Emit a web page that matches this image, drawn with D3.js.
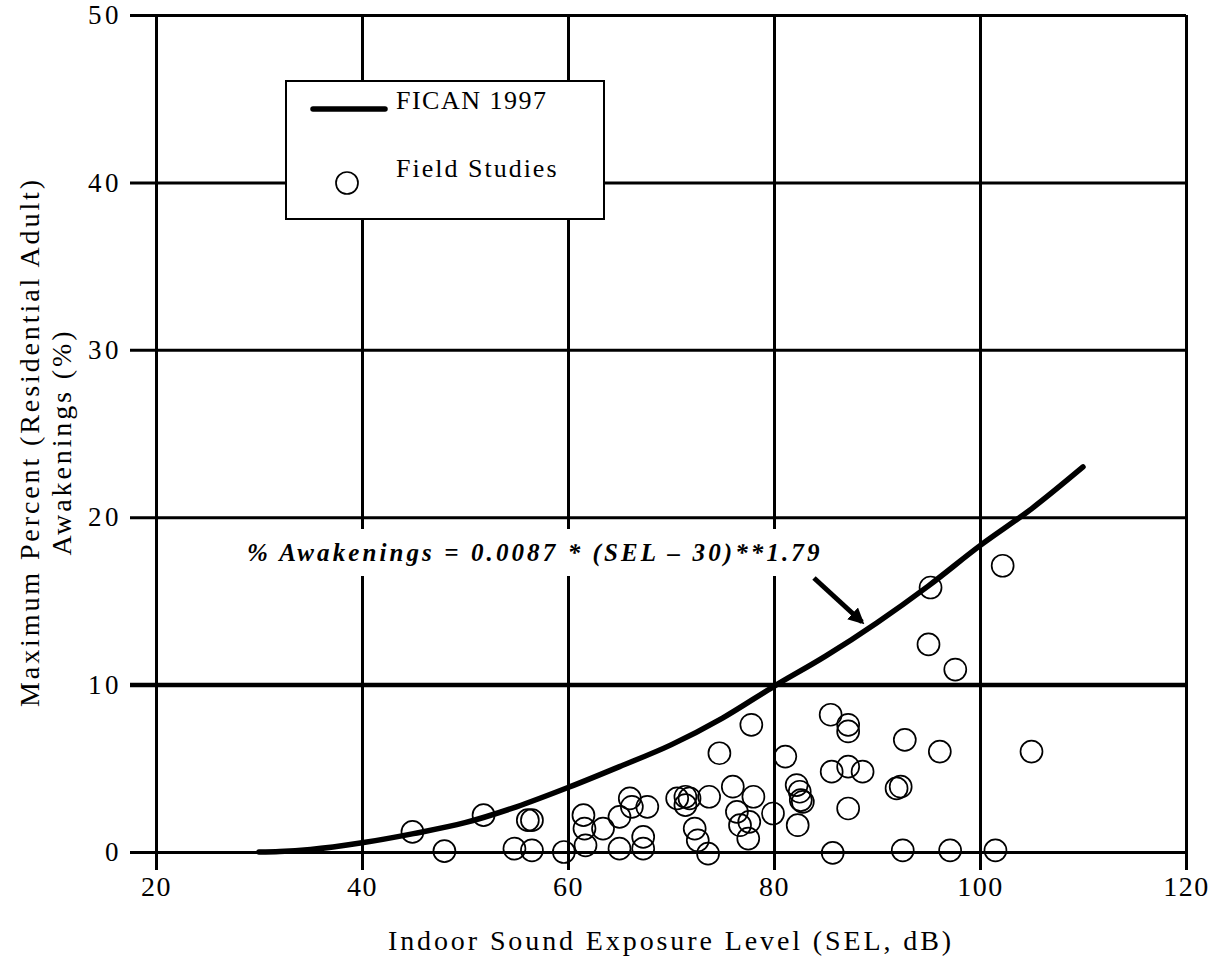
<!DOCTYPE html>
<html>
<head>
<meta charset="utf-8">
<script src="https://cdn.jsdelivr.net/npm/d3@7"></script>
<style>
  body { margin: 0; background: #fff; }
  svg { display: block; }
  text { font-family: "Liberation Serif", "Times New Roman", serif; fill: #000; }
</style>
</head>
<body>
<div class="one"></div>
<script>
// FICAN 1997 curve
let curveSel = [30, 32, 35, 40, 45, 50, 55, 60, 65, 70, 75, 80, 85, 90, 95, 100, 105, 110];
let curvePct = [0, 0.03, 0.15, 0.55, 1.1, 1.75, 2.7, 3.85, 5.1, 6.4, 8.0, 9.9, 11.7, 13.7, 15.9, 18.3, 20.5, 23.0];

// field study points (SEL, % awakenings)
let fieldSel = [44.9, 48.0, 51.8, 54.8, 56.1, 56.5, 56.5, 59.6, 61.5, 61.6, 61.7, 63.4, 65.0, 66.0, 66.2, 67.7,
  65.0, 67.3, 67.3, 70.6, 71.4, 71.4, 71.8, 73.7, 72.3, 72.6, 73.6, 76.0, 78.0, 76.4, 76.7, 77.6, 77.5, 79.9,
  74.7, 77.8, 81.1, 82.2, 82.5, 82.8, 82.6, 82.3, 85.5, 85.6, 85.7, 87.2, 87.2, 87.2, 88.6, 87.2, 92.7, 91.9,
  92.3, 92.5, 95.2, 95.0, 97.6, 96.1, 97.1, 101.5, 102.2, 105.0];
let fieldPct = [1.2, 0.05, 2.2, 0.2, 1.9, 1.9, 0.1, 0.0, 2.2, 1.4, 0.4, 1.4, 2.1, 3.2, 2.7, 2.7,
  0.2, 0.9, 0.2, 3.2, 3.3, 2.8, 3.2, 3.3, 1.4, 0.7, -0.1, 3.9, 3.3, 2.4, 1.6, 1.8, 0.8, 2.3,
  5.9, 7.6, 5.7, 4.0, 3.6, 3.0, 3.1, 1.6, 8.2, 4.8, -0.05, 7.6, 7.2, 5.1, 4.8, 2.6, 6.7, 3.8,
  3.9, 0.1, 15.8, 12.4, 10.9, 6.0, 0.1, 0.1, 17.1, 6.0];

let xTicks = [20, 40, 60, 80, 100, 120];
let yTicks = [0, 10, 20, 30, 40, 50];

let width = 1211, height = 965;
let plotL = 156, plotR = 1186, plotT = 15, plotB = 852;

let xScale = d3.scaleLinear().domain([20, 120]).range([plotL, plotR]);
let yScale = d3.scaleLinear().domain([0, 50]).range([plotB, plotT]);

let svg = d3.select(".one").append("svg")
  .attr("width", width)
  .attr("height", height);

// y grid + labels
let yAxis = d3.axisLeft(yScale).tickValues(yTicks).tickSize(-(plotR - 130)).tickPadding(8);
let yg = svg.append("g")
  .attr("transform", "translate(130,0)")
  .call(yAxis);
yg.select(".domain").remove();
yg.selectAll(".tick line").attr("stroke", "#000")
  .attr("stroke-width", d => d === 10 ? 4.5 : 3);
yg.selectAll(".tick text")
  .style("font-family", "Liberation Serif")
  .style("font-size", "27px")
  .style("letter-spacing", "3.5px");

// x grid + labels
let xAxis = d3.axisBottom(xScale).tickValues(xTicks).tickSize(-(870 - plotT)).tickPadding(6);
let xg = svg.append("g")
  .attr("transform", "translate(0,870)")
  .call(xAxis);
xg.select(".domain").remove();
xg.selectAll(".tick line").attr("stroke", "#000").attr("stroke-width", 3);
xg.selectAll(".tick text")
  .style("font-family", "Liberation Serif")
  .style("font-size", "28px")
  .style("letter-spacing", "1.5px");

// FICAN curve
let line = d3.line()
  .x((d, i) => xScale(curveSel[i]))
  .y(d => yScale(d))
  .curve(d3.curveMonotoneX);

svg.append("path")
  .datum(curvePct)
  .attr("d", line)
  .attr("fill", "none")
  .attr("stroke", "#000")
  .attr("stroke-width", 5.5)
  .attr("stroke-linecap", "round");

// field studies
svg.append("g").selectAll("circle")
  .data(fieldSel)
  .join("circle")
  .attr("cx", d => xScale(d))
  .attr("cy", (d, i) => yScale(fieldPct[i]))
  .attr("r", 11)
  .attr("fill", "none")
  .attr("stroke", "#000")
  .attr("stroke-width", 1.7);

// equation annotation
svg.append("rect")
  .attr("x", 240).attr("y", 529)
  .attr("width", 592).attr("height", 47)
  .attr("fill", "#fff");
svg.append("text")
  .attr("x", 247).attr("y", 561)
  .style("font-size", "25px")
  .style("font-weight", "bold")
  .style("font-style", "italic")
  .style("letter-spacing", "3.1px")
  .text("% Awakenings = 0.0087 * (SEL \u2013 30)**1.79");

svg.append("defs").append("marker")
  .attr("id", "head")
  .attr("viewBox", "0 0 10 10")
  .attr("refX", 8).attr("refY", 5)
  .attr("markerWidth", 3.2).attr("markerHeight", 3.2)
  .attr("orient", "auto")
  .append("path")
  .attr("d", "M0,0 L10,5 L0,10 z")
  .attr("fill", "#000");

svg.append("line")
  .attr("x1", 814).attr("y1", 578)
  .attr("x2", 862).attr("y2", 622)
  .attr("stroke", "#000")
  .attr("stroke-width", 5)
  .attr("marker-end", "url(#head)");

// legend
let lg = svg.append("g");
lg.append("rect")
  .attr("x", 286).attr("y", 81)
  .attr("width", 318).attr("height", 138)
  .attr("fill", "#fff")
  .attr("stroke", "#000")
  .attr("stroke-width", 2);
lg.append("line")
  .attr("x1", 313).attr("y1", 109)
  .attr("x2", 385).attr("y2", 109)
  .attr("stroke", "#000")
  .attr("stroke-width", 5.5)
  .attr("stroke-linecap", "round");
lg.append("text")
  .attr("x", 396).attr("y", 109)
  .style("font-size", "26px")
  .style("letter-spacing", "1.5px")
  .text("FICAN 1997");
lg.append("circle")
  .attr("cx", 347).attr("cy", 183)
  .attr("r", 11)
  .attr("fill", "none")
  .attr("stroke", "#000")
  .attr("stroke-width", 1.7);
lg.append("text")
  .attr("x", 396).attr("y", 177)
  .style("font-size", "26px")
  .style("letter-spacing", "2px")
  .text("Field Studies");

// axis titles
svg.append("text")
  .attr("x", (plotL + plotR) / 2).attr("y", 950)
  .attr("text-anchor", "middle")
  .style("font-size", "28px")
  .style("letter-spacing", "2.9px")
  .text("Indoor Sound Exposure Level (SEL, dB)");

let yt = svg.append("text")
  .attr("transform", "translate(0,442) rotate(-90)")
  .attr("text-anchor", "middle")
  .style("font-size", "28px")
  .style("letter-spacing", "2.9px");
yt.append("tspan").attr("x", 0).attr("y", 39).text("Maximum Percent (Residential Adult)");
yt.append("tspan").attr("x", 0).attr("y", 71).text("Awakenings (%)");
</script>
</body>
</html>
